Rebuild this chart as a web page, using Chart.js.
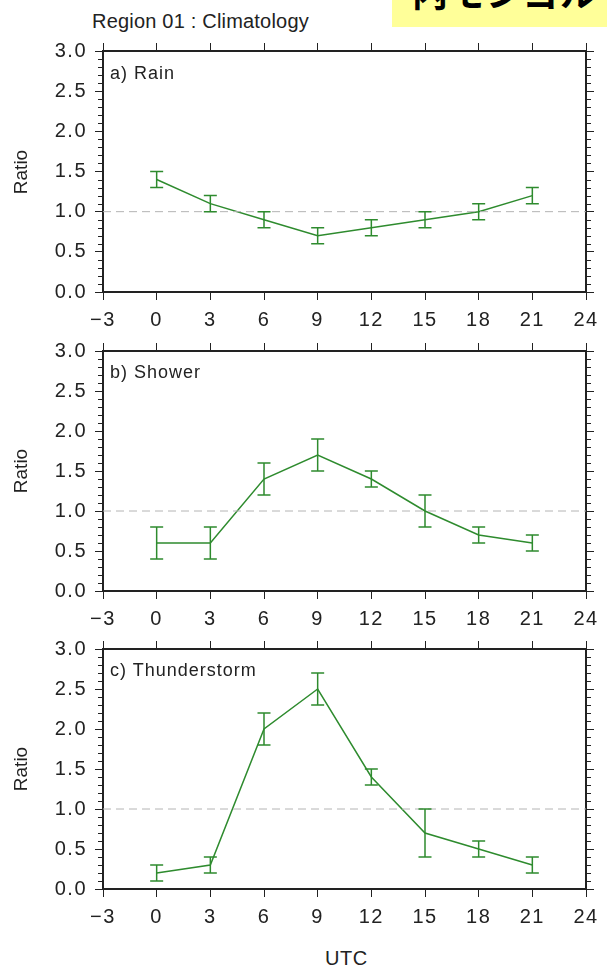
<!DOCTYPE html>
<html>
<head>
<meta charset="utf-8">
<script src="https://cdn.jsdelivr.net/npm/chart.js@4.4.0/dist/chart.umd.min.js"></script>
<style>
  body { margin: 0; background: #fff; }
  #wrap { position: relative; width: 607px; height: 969px; overflow: hidden; font-family: "Liberation Sans", Arial, sans-serif; color: #222; }
  canvas { position: absolute; left: 0; }
  .txt { position: absolute; white-space: nowrap; }
  .lbl { font-size: 18px; letter-spacing: 1px; }
  .ratio { position: absolute; left: 20px; width: 0; height: 0; }
  .ratio span { position: absolute; left: 0; top: 0; transform: translate(-50%, -50%) rotate(-90deg); font-size: 19px; line-height: 19px; white-space: nowrap; }
  #badge { position: absolute; left: 392px; top: 0; width: 215px; height: 27px; background: #ffff99; overflow: hidden; }
  #badge span { position: absolute; left: 20px; top: -35px; font: bold 36px "Noto Sans CJK JP"; color: #000; letter-spacing: 1px; }
</style>
</head>
<body>
<div id="wrap">
  <div class="txt" style="left:92px; top:10px; font-size:20px; letter-spacing:0.2px;">Region 01 : Climatology</div>
  <div id="badge"><span>内モンゴル</span></div>
  <canvas id="c0" width="607" height="340" style="top:0px"></canvas>
  <canvas id="c1" width="607" height="340" style="top:300px"></canvas>
  <canvas id="c2" width="607" height="340" style="top:598px"></canvas>
  <div class="txt lbl" style="left:110px; top:63px;">a) Rain</div>
  <div class="txt lbl" style="left:110px; top:362px;">b) Shower</div>
  <div class="txt lbl" style="left:110px; top:660px;">c) Thunderstorm</div>
  <div class="ratio" style="top:172px"><span>Ratio</span></div>
  <div class="ratio" style="top:471px"><span>Ratio</span></div>
  <div class="ratio" style="top:769px"><span>Ratio</span></div>
  <div class="txt" style="left:325px; top:947px; font-size:20px; letter-spacing:0.5px;">UTC</div>
</div>
<script>
// hours (UTC) and ratios
const hours = [0, 3, 6, 9, 12, 15, 18, 21];

const rainRatio = [1.4, 1.1, 0.9, 0.7, 0.8, 0.9, 1.0, 1.2];
const rainLow   = [1.3, 1.0, 0.8, 0.6, 0.7, 0.8, 0.9, 1.1];
const rainHigh  = [1.5, 1.2, 1.0, 0.8, 0.9, 1.0, 1.1, 1.3];

const showerRatio = [0.6, 0.6, 1.4, 1.7, 1.4, 1.0, 0.7, 0.6];
const showerLow   = [0.4, 0.4, 1.2, 1.5, 1.3, 0.8, 0.6, 0.5];
const showerHigh  = [0.8, 0.8, 1.6, 1.9, 1.5, 1.2, 0.8, 0.7];

const thunderRatio = [0.2, 0.3, 2.0, 2.5, 1.4, 0.7, 0.5, 0.3];
const thunderLow   = [0.1, 0.2, 1.8, 2.3, 1.3, 0.4, 0.4, 0.2];
const thunderHigh  = [0.3, 0.4, 2.2, 2.7, 1.5, 1.0, 0.6, 0.4];

const xRange = [-3, 24];
const yRange = [0, 3];
const refLevel = 1.0;

const green = '#2e8b2e';
const axisColor = '#222';
const font = { family: '"Liberation Sans", Arial, sans-serif', size: 20 };

// the original lettering is a bit looser than Liberation Sans
const looseText = {
  id: 'looseText',
  beforeDraw(chart) {
    if ('letterSpacing' in chart.ctx) chart.ctx.letterSpacing = '1.5px';
  }
};

// error bars with caps, drawn through the chart's scales
const errorBars = {
  id: 'errorBars',
  afterDatasetsDraw(chart, args, opts) {
    const { ctx, scales: { x, y } } = chart;
    ctx.save();
    ctx.strokeStyle = green;
    ctx.lineWidth = 1.5;
    opts.low.forEach((lo, i) => {
      const px = x.getPixelForValue(hours[i]);
      const y0 = y.getPixelForValue(lo);
      const y1 = y.getPixelForValue(opts.high[i]);
      ctx.beginPath();
      ctx.moveTo(px, y0); ctx.lineTo(px, y1);
      ctx.moveTo(px - 6.5, y0); ctx.lineTo(px + 6.5, y0);
      ctx.moveTo(px - 6.5, y1); ctx.lineTo(px + 6.5, y1);
      ctx.stroke();
    });
    ctx.restore();
  }
};

// short minor ticks every 0.1 on both y axes
const minorTicks = {
  id: 'minorTicks',
  afterDraw(chart) {
    const { ctx, chartArea, scales: { y } } = chart;
    ctx.save();
    ctx.strokeStyle = axisColor;
    ctx.lineWidth = 1;
    for (let k = 1; k < 30; k++) {
      if (k % 5 === 0) continue;
      const py = Math.round(y.getPixelForValue(k / 10)) + 0.5;
      ctx.beginPath();
      ctx.moveTo(chartArea.left - 5, py); ctx.lineTo(chartArea.left, py);
      ctx.moveTo(chartArea.right, py); ctx.lineTo(chartArea.right + 5, py);
      ctx.stroke();
    }
    ctx.restore();
  }
};

function fixSize(prop, val) {
  return scale => { scale[prop] = val; };
}

function makePanel(id, ratio, low, high, bottomH) {
  const tickGrid = { drawOnChartArea: false, tickLength: 8, tickColor: axisColor, tickWidth: 1 };
  const border = { color: axisColor, width: 2 };
  new Chart(document.getElementById(id), {
    type: 'line',
    data: {
      datasets: [
        {
          data: xRange.map(v => ({ x: v, y: refLevel })),
          borderColor: '#b4b4b4',
          borderWidth: 1,
          borderDash: [8, 5],
          pointRadius: 0
        },
        {
          data: hours.map((h, i) => ({ x: h, y: ratio[i] })),
          borderColor: green,
          borderWidth: 1.5,
          pointRadius: 0,
          tension: 0
        }
      ]
    },
    options: {
      responsive: false,
      animation: false,
      layout: { padding: 0 },
      plugins: {
        legend: { display: false },
        tooltip: { enabled: false },
        errorBars: { low, high }
      },
      scales: {
        x: {
          type: 'linear', position: 'bottom',
          min: xRange[0], max: xRange[1],
          grid: tickGrid, border,
          ticks: {
            stepSize: 3, color: axisColor, font, padding: 8, maxRotation: 0,
            callback: v => v < 0 ? '\u2212' + Math.abs(v) : String(v)
          },
          afterFit: fixSize('height', bottomH)
        },
        xTop: {
          type: 'linear', position: 'top',
          min: xRange[0], max: xRange[1],
          grid: tickGrid, border,
          ticks: { stepSize: 3, display: false },
          afterFit: fixSize('height', 51)
        },
        y: {
          type: 'linear', position: 'left',
          min: yRange[0], max: yRange[1],
          grid: tickGrid, border,
          ticks: { stepSize: 0.5, color: axisColor, font, padding: 8, callback: v => v.toFixed(1) },
          afterFit: fixSize('width', 103)
        },
        yRight: {
          type: 'linear', position: 'right',
          min: yRange[0], max: yRange[1],
          grid: tickGrid, border,
          ticks: { stepSize: 0.5, display: false },
          afterFit: fixSize('width', 21)
        }
      }
    },
    plugins: [looseText, errorBars, minorTicks]
  });
}

makePanel('c0', rainRatio, rainLow, rainHigh, 48);
makePanel('c1', showerRatio, showerLow, showerHigh, 49);
makePanel('c2', thunderRatio, thunderLow, thunderHigh, 49);
</script>
</body>
</html>
